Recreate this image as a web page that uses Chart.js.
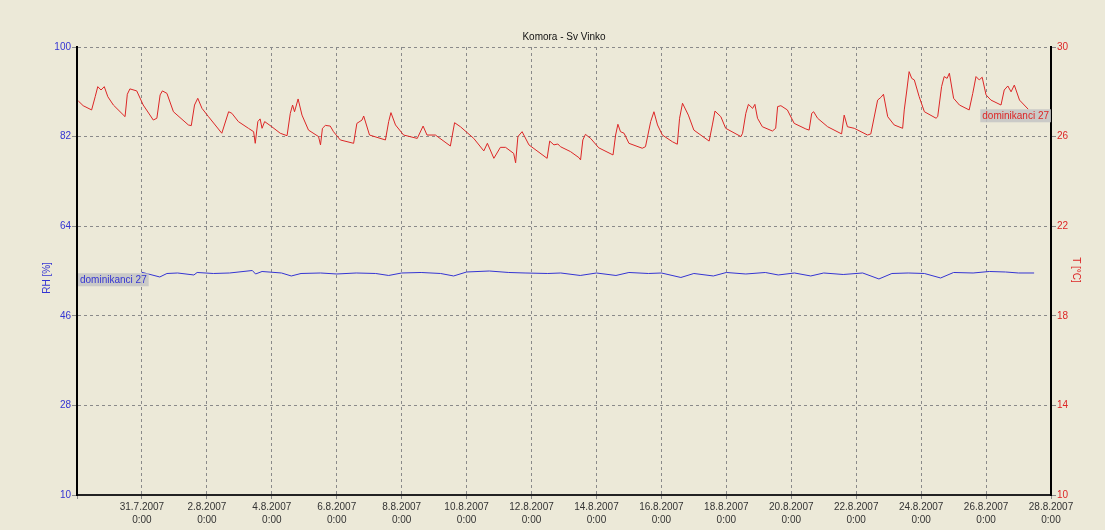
<!DOCTYPE html>
<html>
<head>
<meta charset="utf-8">
<title>Komora - Sv Vinko</title>
<script src="https://cdn.jsdelivr.net/npm/chart.js@4/dist/chart.umd.min.js"></script>
<style>
  html, body { margin: 0; padding: 0; background: #ece9d8; }
  #wrap { width: 1105px; height: 530px; }
</style>
</head>
<body>
<div id="wrap"><canvas id="roomChart" width="1105" height="530"></canvas></div>
<script>
// x values are days counted from 29.7.2007 0:00
const tempDays = [0.04, 0.19, 0.45, 0.56, 0.64, 0.74, 0.84, 0.95, 1.12, 1.48, 1.55, 1.63, 1.84, 2.04, 2.35, 2.46, 2.56, 2.63, 2.77, 2.97,
  3.43, 3.52, 3.62, 3.72, 3.85, 4.05, 4.46, 4.67, 4.77, 4.97, 5.28, 5.44, 5.49, 5.57, 5.64, 5.70, 5.78, 6.00, 6.26, 6.47,
  6.57, 6.64, 6.70, 6.81, 6.93, 7.13, 7.44, 7.50, 7.56, 7.65, 7.80, 7.90, 8.11, 8.52, 8.62, 8.78, 8.83, 9.01, 9.50, 9.60,
  9.67, 9.81, 10.06, 10.48, 10.66, 10.78, 11.04, 11.50, 11.63, 11.81, 12.22, 12.53, 12.64, 12.84, 13.04, 13.20, 13.45, 13.51, 13.58, 13.71,
  13.92, 14.48, 14.56, 14.69, 14.81, 14.89, 15.20, 15.46, 15.51, 15.58, 15.66, 15.82, 16.07, 16.51, 16.59, 16.66, 16.74, 16.85, 17.00, 17.41,
  17.51, 17.67, 17.77, 17.88, 18.03, 18.34, 18.49, 18.56, 18.65, 18.83, 19.00, 19.47, 19.57, 19.65, 19.83, 19.98, 20.45, 20.50, 20.60, 20.68,
  20.81, 20.88, 20.96, 21.11, 21.42, 21.52, 21.58, 21.68, 21.88, 22.09, 22.45, 22.55, 22.63, 22.69, 22.81, 23.12, 23.55, 23.63, 23.73, 23.94,
  24.35, 24.45, 24.66, 24.76, 24.84, 24.97, 25.17, 25.43, 25.48, 25.56, 25.63, 25.71, 25.79, 25.94, 26.10, 26.46, 26.51, 26.63, 26.71, 26.80,
  26.87, 27.00, 27.18, 27.48, 27.59, 27.69, 27.79, 27.88, 28.00, 28.15, 28.46, 28.56, 28.67, 28.77, 28.87, 29.03, 29.30];
const tempValues = [27.59, 27.38, 27.19, 27.78, 28.23, 28.08, 28.23, 27.78, 27.41, 26.89, 27.89, 28.13, 28.04, 27.41, 26.74, 26.82, 27.86, 28.04, 27.93, 27.11,
  26.52, 26.49, 27.41, 27.71, 27.26, 26.89, 26.15, 27.11, 27.04, 26.67, 26.37, 26.22, 25.70, 26.67, 26.79, 26.37, 26.67, 26.44, 26.15, 26.04,
  27.04, 27.41, 27.11, 27.68, 26.96, 26.29, 26.00, 25.63, 26.37, 26.50, 26.47, 26.22, 25.85, 25.70, 26.59, 26.74, 26.92, 26.07, 25.85, 26.67,
  27.07, 26.52, 26.07, 25.92, 26.47, 26.07, 26.07, 25.58, 26.62, 26.44, 25.92, 25.36, 25.70, 25.03, 25.52, 25.52, 25.25, 24.83, 26.00, 26.22,
  25.63, 25.03, 25.80, 25.63, 25.67, 25.55, 25.33, 25.06, 24.96, 25.85, 26.10, 25.92, 25.50, 25.18, 26.07, 26.55, 26.22, 26.15, 25.70, 25.48,
  25.55, 26.67, 27.11, 26.52, 26.07, 25.77, 25.66, 26.82, 27.49, 26.96, 26.29, 25.80, 26.52, 27.14, 26.89, 26.37, 26.00, 26.15, 27.04, 27.44,
  27.26, 27.44, 26.82, 26.44, 26.25, 26.37, 27.34, 27.38, 27.19, 26.59, 26.34, 26.29, 27.04, 27.11, 26.82, 26.44, 26.12, 26.96, 26.44, 26.37,
  26.07, 26.12, 27.63, 27.75, 27.89, 26.89, 26.52, 26.37, 27.19, 28.08, 28.90, 28.60, 28.53, 27.78, 27.11, 26.82, 26.89, 28.23, 28.68, 28.60,
  28.83, 27.71, 27.41, 27.19, 27.93, 28.68, 28.53, 28.65, 27.86, 27.63, 27.41, 28.08, 28.26, 28.00, 28.30, 27.63, 27.22];

const rhDays = [1.99, 2.55, 2.77, 3.10, 3.60, 3.70, 4.20, 4.70, 5.40, 5.50, 5.70, 6.30, 6.60, 6.90, 7.50, 8.00, 8.60, 9.20, 9.60, 10.00,
  10.60, 11.20, 11.60, 12.00, 12.70, 13.30, 13.80, 14.50, 14.90, 15.50, 16.00, 16.60, 17.00, 17.60, 18.00, 18.60, 19.00, 19.60, 20.00, 20.60,
  21.20, 21.60, 22.10, 22.60, 23.00, 23.60, 24.20, 24.70, 25.10, 25.60, 26.10, 26.60, 27.00, 27.60, 28.10, 28.60, 29.00, 29.48];
const rhValues = [54.75, 53.8, 54.5, 54.6, 54.2, 54.7, 54.5, 54.6, 55.1, 54.4, 54.9, 54.6, 54.0, 54.5, 54.6, 54.4, 54.6, 54.5, 54.1, 54.6,
  54.7, 54.5, 54.0, 54.8, 55.0, 54.7, 54.6, 54.5, 54.6, 54.1, 54.6, 54.1, 54.7, 54.5, 54.6, 53.7, 54.5, 54.0, 54.7, 54.4,
  54.7, 54.2, 54.6, 54.0, 54.6, 54.3, 54.6, 53.4, 54.5, 54.6, 54.5, 53.6, 54.7, 54.6, 54.9, 54.8, 54.6, 54.6];

// one label per 2-day tick, starting at 29.7.2007 (hidden, sits on the axis)
const dateLabels = ['', '31.7.2007', '2.8.2007', '4.8.2007', '6.8.2007', '8.8.2007', '10.8.2007', '12.8.2007',
  '14.8.2007', '16.8.2007', '18.8.2007', '20.8.2007', '22.8.2007', '24.8.2007', '26.8.2007', '28.8.2007'];
const seriesName = 'dominikanci 27';

const blue = '#3434d2';
const red = '#dc2626';
const gridGray = '#8a8a8a';

Chart.defaults.font.family = "'Liberation Sans', Arial, sans-serif";
Chart.defaults.font.size = 10;

// title, axis titles and the series name tags
const textPlugin = {
  id: 'texts',
  afterDraw(chart) {
    const c = chart.ctx;
    const area = chart.chartArea;
    c.save();
    c.font = "10px 'Liberation Sans', Arial, sans-serif";
    c.textBaseline = 'middle';

    c.fillStyle = '#111';
    c.textAlign = 'center';
    c.fillText('Komora - Sv Vinko', (area.left + area.right) / 2, 37);

    c.save();
    c.translate(47, 278);
    c.rotate(-Math.PI / 2);
    c.fillStyle = blue;
    c.fillText('RH [%]', 0, 0);
    c.restore();

    c.save();
    c.translate(1076, 270);
    c.rotate(Math.PI / 2);
    c.fillStyle = red;
    c.fillText('T [°C]', 0, 0);
    c.restore();

    const w = c.measureText(seriesName).width + 4;
    const h = 13;

    const tMeta = chart.getDatasetMeta(0);
    const last = tMeta.data[tMeta.data.length - 1];
    c.fillStyle = 'rgba(196,196,196,0.85)';
    c.fillRect(area.right - w, last.y, w, h);
    c.fillStyle = red;
    c.textAlign = 'left';
    c.fillText(seriesName, area.right - w + 2, last.y + h / 2 + 0.5);

    const rMeta = chart.getDatasetMeta(1);
    const first = rMeta.data[0];
    c.fillStyle = 'rgba(196,196,196,0.85)';
    c.fillRect(area.left + 1, first.y + 1, w, h);
    c.fillStyle = blue;
    c.fillText(seriesName, area.left + 3, first.y + 1 + h / 2 + 0.5);
    c.restore();
  }
};

const ctx = document.getElementById('roomChart').getContext('2d');
const roomChart = new Chart(ctx, {
  type: 'line',
  data: {
    datasets: [{
      label: 'T',
      data: tempDays.map((d, i) => ({ x: d, y: tempValues[i] })),
      borderColor: red,
      borderWidth: 1,
      pointRadius: 0,
      tension: 0,
      yAxisID: 'y1'
    }, {
      label: 'RH',
      data: rhDays.map((d, i) => ({ x: d, y: rhValues[i] })),
      borderColor: blue,
      borderWidth: 1,
      pointRadius: 0,
      tension: 0,
      yAxisID: 'y'
    }]
  },
  options: {
    responsive: false,
    animation: false,
    layout: { padding: { top: 47, left: 0, right: 0, bottom: 0 } },
    plugins: {
      legend: { display: false },
      tooltip: { enabled: false }
    },
    scales: {
      x: {
        type: 'linear',
        min: 0,
        max: 30,
        ticks: {
          stepSize: 2,
          autoSkip: false,
          maxRotation: 0,
          padding: 2,
          color: '#333',
          font: { size: 10, lineHeight: 1.3 },
          callback: (v) => {
            const label = dateLabels[Math.round(v / 2)];
            return label ? [label, '0:00'] : '';
          }
        },
        grid: { color: gridGray, tickLength: 4, tickColor: gridGray },
        border: { color: '#222', width: 2, dash: [3, 3] },
        afterFit: (s) => { s.height = 35; }
      },
      y: {
        position: 'left',
        min: 10,
        max: 100,
        ticks: { stepSize: 18, color: blue, padding: 1 },
        grid: { color: gridGray, tickLength: 5, tickColor: gridGray },
        border: { color: '#000', width: 2, dash: [3, 3] },
        afterFit: (s) => { s.width = 77; }
      },
      y1: {
        position: 'right',
        min: 10,
        max: 30,
        ticks: { stepSize: 4, color: red, padding: 1 },
        grid: { drawOnChartArea: false, tickLength: 5, tickColor: gridGray },
        border: { color: '#000', width: 2 },
        afterFit: (s) => { s.width = 54; }
      }
    }
  },
  plugins: [textPlugin]
});
</script>
</body>
</html>
